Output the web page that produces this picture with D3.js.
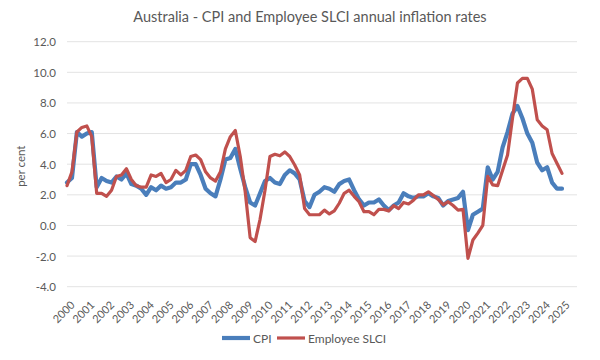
<!DOCTYPE html>
<html>
<head>
<meta charset="utf-8">
<script src="https://cdn.jsdelivr.net/npm/d3@7"></script>
<style>
  html, body { margin: 0; padding: 0; background: #fff; }
  svg { display: block; }
  text { font-family: Lato, "Open Sans", sans-serif; fill: #595959; }
</style>
</head>
<body>
<svg id="chart" width="600" height="360"></svg>
<script>
const title = "Australia - CPI and Employee SLCI annual inflation rates";
const yAxisLabel = "per cent";
const years = ["2000","2001","2002","2003","2004","2005","2006","2007","2008","2009","2010","2011","2012",
  "2013","2014","2015","2016","2017","2018","2019","2020","2021","2022","2023","2024","2025"];
const quarters = [];
years.forEach(y => ["Q1","Q2","Q3","Q4"].forEach(q => { if (y !== "2025" || q === "Q1") quarters.push(y + q); }));
const yTicks = [-4, -2, 0, 2, 4, 6, 8, 10, 12];
const seriesNames = ["CPI", "Employee SLCI"];

const cpi = [2.8, 3.1, 6.1, 5.8, 6.0, 6.1, 2.5, 3.1, 2.9, 2.8, 3.2, 3.0,
  3.4, 2.7, 2.6, 2.4, 2.0, 2.5, 2.3, 2.6, 2.4, 2.5, 2.8, 2.8,
  3.0, 4.0, 4.0, 3.3, 2.4, 2.1, 1.9, 3.0, 4.3, 4.4, 5.0, 3.7,
  2.5, 1.5, 1.3, 2.1, 2.9, 3.1, 2.8, 2.7, 3.3, 3.6, 3.4, 3.0,
  1.6, 1.2, 2.0, 2.2, 2.5, 2.4, 2.2, 2.7, 2.9, 3.0, 2.3, 1.7,
  1.3, 1.5, 1.5, 1.7, 1.3, 1.0, 1.3, 1.5, 2.1, 1.9, 1.8, 1.9,
  1.9, 2.1, 1.9, 1.8, 1.3, 1.6, 1.7, 1.8, 2.2, -0.3, 0.7, 0.9,
  1.1, 3.8, 3.0, 3.5, 5.1, 6.1, 7.3, 7.8, 7.0, 6.0, 5.4, 4.1,
  3.6, 3.8, 2.8, 2.4, 2.4];

const slci = [2.6, 3.5, 6.1, 6.4, 6.5, 5.8, 2.1, 2.1, 1.9, 2.3, 3.2, 3.3,
  3.7, 3.0, 2.6, 2.5, 2.5, 3.3, 3.2, 3.4, 2.8, 3.0, 3.6, 3.3,
  3.6, 4.5, 4.6, 4.3, 3.5, 3.1, 2.9, 3.5, 5.0, 5.8, 6.2, 4.5,
  2.2, -0.8, -1.05, 0.4, 2.3, 4.5, 4.65, 4.55, 4.8, 4.5, 3.95, 3.3,
  1.1, 0.7, 0.7, 0.7, 1.0, 0.75, 0.95, 1.45, 2.1, 2.3, 1.9, 1.55,
  0.9, 0.9, 0.7, 1.05, 1.05, 0.95, 1.3, 1.1, 1.5, 1.4, 1.65, 2.0,
  2.0, 2.2, 1.95, 1.7, 1.35, 1.55, 1.3, 1.0, 1.05, -2.15, -0.95, -0.5,
  0.0, 3.2, 2.65, 2.6, 3.6, 4.6, 7.0, 9.3, 9.6, 9.6, 8.9, 6.9,
  6.5, 6.25, 4.7, 4.05, 3.4];

const colors = ["#4a7ebb", "#c0504d"];
const widths = [4.2, 3.2];

const svg = d3.select("#chart");
const plotLeft = 67, plotRight = 577, plotTop = 41.7, plotBottom = 286.7;

const x = d3.scalePoint().domain(quarters).range([plotLeft, 562]);
const y = d3.scaleLinear().domain([-4, 12]).range([plotBottom, plotTop]);

// title
svg.append("text").attr("x", 310).attr("y", 22).attr("text-anchor", "middle")
  .style("font-size", "14.5px").text(title);

// gridlines
svg.append("g").selectAll("line").data(yTicks).join("line")
  .attr("x1", plotLeft).attr("x2", plotRight)
  .attr("y1", d => y(d)).attr("y2", d => y(d))
  .attr("stroke", "#e3e3e3").attr("stroke-width", 1);

// y axis
const yAxis = d3.axisLeft(y).tickValues(yTicks).tickSize(0).tickPadding(0)
  .tickFormat(d => d.toFixed(1));
const gy = svg.append("g").attr("transform", `translate(56,0)`).call(yAxis);
gy.select(".domain").remove();
gy.selectAll("text").style("font-size", "11.5px").style("font-family", "Lato, sans-serif")
  .attr("fill", "#595959").attr("dy", "0.35em");

svg.append("text").attr("transform", `translate(25,${(plotTop + plotBottom) / 2 + 2}) rotate(-90)`)
  .attr("text-anchor", "middle").style("font-size", "11.5px").text(yAxisLabel);

// x axis labels
const xTickVals = quarters.filter(q => q.endsWith("Q1"));
const xAxis = d3.axisBottom(x).tickValues(xTickVals).tickSize(0).tickPadding(0)
  .tickFormat(d => d.slice(0, 4));
const gx = svg.append("g").attr("transform", `translate(0,${plotBottom})`).call(xAxis);
gx.select(".domain").remove();
gx.selectAll("text").style("font-size", "11px").style("font-family", "Lato, sans-serif")
  .attr("fill", "#595959")
  .attr("text-anchor", "end")
  .attr("dy", "0")
  .attr("y", 0)
  .attr("transform", "translate(8,19) rotate(-45)");

// lines
const line = d3.line().x((d, i) => x(quarters[i])).y(d => y(d));
[cpi, slci].forEach((s, k) => {
  svg.append("path").datum(s).attr("d", line)
    .attr("fill", "none").attr("stroke", colors[k]).attr("stroke-width", widths[k])
    .attr("stroke-linejoin", "round").attr("stroke-linecap", "round");
});

// legend
const legend = svg.append("g").attr("transform", "translate(0,338)");
const legendX = [222, 277];
seriesNames.forEach((n, k) => {
  legend.append("line").attr("x1", legendX[k]).attr("x2", legendX[k] + 28)
    .attr("y1", 0).attr("y2", 0).attr("stroke", colors[k]).attr("stroke-width", widths[k]);
  legend.append("text").attr("x", legendX[k] + 31).attr("y", 4.5)
    .style("font-size", "12px").text(n);
});
</script>
</body>
</html>
